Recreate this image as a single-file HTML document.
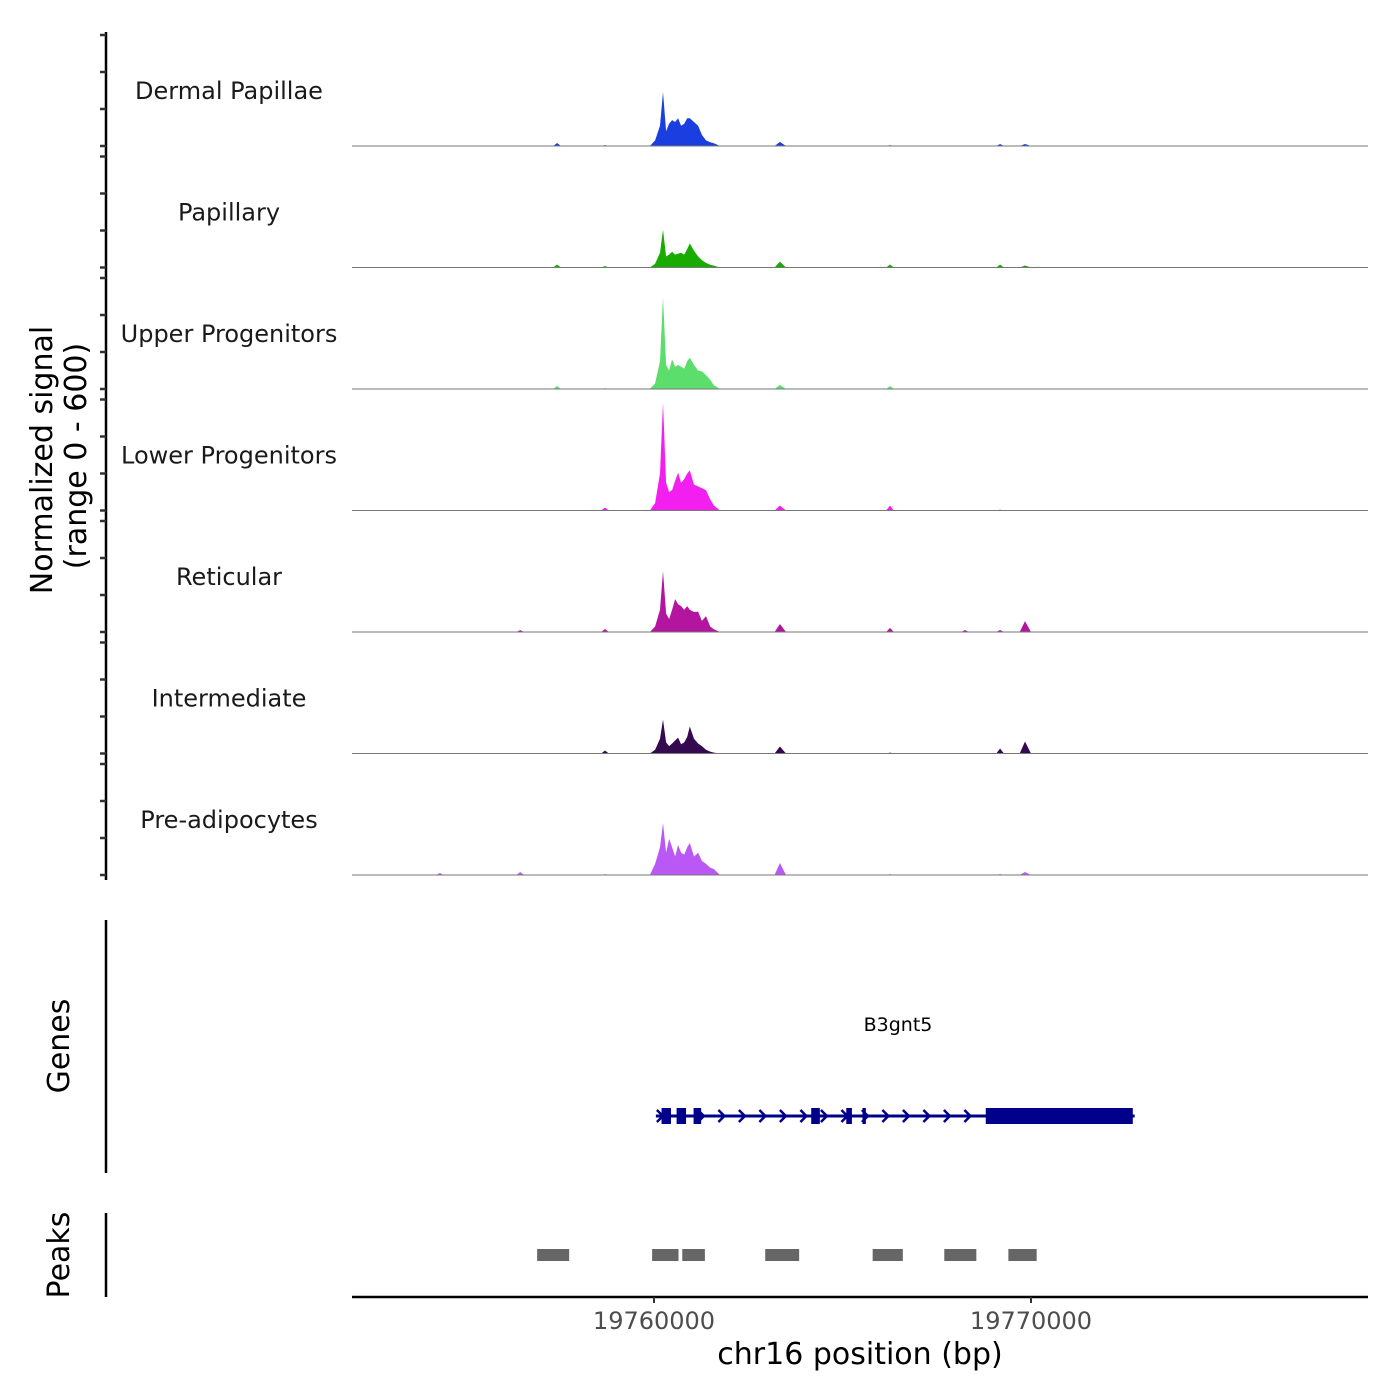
<!DOCTYPE html>
<html><head><meta charset="utf-8"><style>
body{margin:0;background:#fff}
svg{display:block;font-family:"DejaVu Sans","Liberation Sans",sans-serif}
</style></head><body>
<svg id="chart" width="1400" height="1400" viewBox="0 0 1400 1400">
<g id="tracks"></g>
<line x1="106" y1="32" x2="106" y2="880" stroke="#000" stroke-width="2.5"/>
<g id="yticks"></g>
<text transform="translate(52,460) rotate(-90)" text-anchor="middle" font-size="30" fill="#000">Normalized signal</text>
<text transform="translate(86,456) rotate(-90)" text-anchor="middle" font-size="30" fill="#000">(range 0 - 600)</text>
<line x1="106" y1="920" x2="106" y2="1173" stroke="#000" stroke-width="2.5"/>
<text transform="translate(69,1046) rotate(-90)" text-anchor="middle" font-size="30" fill="#000">Genes</text>
<g id="gene"></g>
<text x="898" y="1031" text-anchor="middle" font-size="19" fill="#000">B3gnt5</text>
<line x1="106" y1="1213" x2="106" y2="1297" stroke="#000" stroke-width="2.5"/>
<text transform="translate(69,1255) rotate(-90)" text-anchor="middle" font-size="30" fill="#000">Peaks</text>
<g id="peaks"></g>
<line x1="352" y1="1297" x2="1368" y2="1297" stroke="#000" stroke-width="2.5"/>
<g id="xticks"></g>
<text x="860" y="1364" text-anchor="middle" font-size="30" fill="#000">chr16 position (bp)</text>
</svg>
<script>
const trackNames = ["Dermal Papillae","Papillary","Upper Progenitors","Lower Progenitors","Reticular","Intermediate","Pre-adipocytes"];
const trackColors = ["#1a3ee0","#1aab00","#5bde6c","#f21ff0","#b4159f","#34094f","#b958f5"];
// positions in kb relative to 19760000
const positions = [-8,-5.78,-5.68,-5.58,-3.65,-3.55,-3.45,-2.67,-2.57,-2.47,-1.4,-1.3,-1.2,
 -0.11,0.03,0.16,0.24,0.32,0.40,0.48,0.56,0.64,0.72,0.80,0.88,0.95,1.06,1.17,1.27,1.38,1.49,1.59,1.75,
 3.2,3.34,3.5,6.16,6.26,6.36,8.15,8.25,8.35,9.08,9.18,9.28,9.7,9.84,10.0,19];
const smallDP  = [0,0,16,5,22,5,0,11,11];
const smallPap = [0,0,16,8,32,16,0,16,11];
const smallUp  = [0,0,16,5,22,16,0,0,0];
const smallLow = [0,0,0,16,27,27,0,5,0];
const smallRet = [0,10,0,16,43,22,11,11,59];
const smallInt = [0,0,0,16,38,5,0,27,65];
const smallPre = [11,16,0,5,65,5,0,5,16];
const clusterDP  = [0,30,110,292,80,120,140,130,150,110,120,150,150,130,110,60,30,20,15,0];
const clusterPap = [0,20,80,205,60,70,85,70,75,80,70,100,130,90,60,40,25,15,10,0];
const clusterUp  = [0,30,150,497,130,100,160,120,130,120,110,150,170,130,100,95,75,50,20,0];
const clusterLow = [0,40,200,583,150,100,110,160,205,150,170,200,216,140,130,120,110,60,27,0];
const clusterRet = [0,30,120,330,100,70,120,178,150,140,120,140,120,108,110,60,86,30,15,0];
const clusterInt = [0,20,80,184,60,40,54,70,86,50,60,90,146,80,54,40,20,10,5,0];
const clusterPre = [0,60,150,281,120,195,150,100,162,120,110,150,173,100,120,76,60,40,32,0];
const smalls = [smallDP,smallPap,smallUp,smallLow,smallRet,smallInt,smallPre];
const clusters = [clusterDP,clusterPap,clusterUp,clusterLow,clusterRet,clusterInt,clusterPre];
const yTicks = [0,200,400,600];
const xTickValues = [19760000,19770000];
const peakStarts = [19756900,19759950,19760750,19762950,19765800,19767700,19769400];
const peakEnds   = [19757750,19760650,19761350,19763850,19766600,19768550,19770150];
const exonStarts = [19760200,19760600,19761050,19764170,19765100,19765530,19768800];
const exonEnds   = [19760450,19760850,19761250,19764400,19765250,19765620,19772700];
const geneStart = 19760050, geneEnd = 19772750;

const NS="http://www.w3.org/2000/svg";
const xkb = kb => 654 + 37.7*kb;
const xbp = bp => xkb((bp-19760000)/1000);
const baseY = i => 146 + 121.5*i;
const yv = (i,v) => baseY(i) - v*111/600;
function mk(tag, attrs, parent){const e=document.createElementNS(NS,tag);for(const k in attrs)e.setAttribute(k,attrs[k]);parent.appendChild(e);return e;}

const tracks=document.getElementById('tracks');
const yt=document.getElementById('yticks');
trackNames.forEach((name,i)=>{
  const s=smalls[i], c=clusters[i];
  const vals=[0, 0,s[0],0, 0,s[1],0, 0,s[2],0, 0,s[3],0, ...c, 0,s[4],0, 0,s[5],0, 0,s[6],0, 0,s[7],0, 0,s[8],0, 0];
  let d='M'+xkb(positions[0])+','+baseY(i);
  positions.forEach((p,j)=>{d+=' L'+xkb(p).toFixed(1)+','+yv(i,vals[j]).toFixed(1);});
  d+=' L'+xkb(positions[positions.length-1])+','+baseY(i)+' Z';
  const a=mk('path',{d:d,fill:trackColors[i]},tracks);
  
  
  const l=mk('line',{x1:352,x2:1368,y1:baseY(i),y2:baseY(i),stroke:'#777','stroke-width':1},tracks);
  
  
  const t=mk('text',{x:229,y:baseY(i)-47,'text-anchor':'middle','font-size':'24',fill:'#1a1a1a'},tracks);
  t.textContent=name;
  
  
  yTicks.forEach(v=>{
    const tk=mk('line',{x1:100,x2:106,y1:yv(i,v),y2:yv(i,v),stroke:'#333','stroke-width':2.5},yt);
    
    
  });
});

const xt=document.getElementById('xticks');
xTickValues.forEach(v=>{
  const tk=mk('line',{x1:xbp(v),x2:xbp(v),y1:1297,y2:1303,stroke:'#333','stroke-width':2},xt);
  
  
  const t=mk('text',{x:xbp(v),y:1329,'text-anchor':'middle','font-size':'24',fill:'#4d4d4d'},xt);
  t.textContent=String(v);
  
  
});

const pk=document.getElementById('peaks');
peakStarts.forEach((s,i)=>{
  const r=mk('rect',{x:xbp(s),y:1249,width:xbp(peakEnds[i])-xbp(s),height:12,fill:'#666'},pk);
  
  
});

const g=document.getElementById('gene');
const gy=1116;
const gl=mk('line',{x1:xbp(geneStart),x2:xbp(geneEnd),y1:gy,y2:gy,stroke:'#00008b','stroke-width':3},g);


for(let x=xbp(geneStart)+4;x<xbp(19768800);x+=20.5){
  const ar=mk('polyline',{points:`${x-3},${gy-6} ${x+3},${gy} ${x-3},${gy+6}`,fill:'none',stroke:'#00008b','stroke-width':2.5},g);
  
  
}
exonStarts.forEach((s,i)=>{
  const r=mk('rect',{x:xbp(s),y:gy-8,width:xbp(exonEnds[i])-xbp(s),height:16,fill:'#00008b'},g);
  
  
});
</script>
</body></html>
